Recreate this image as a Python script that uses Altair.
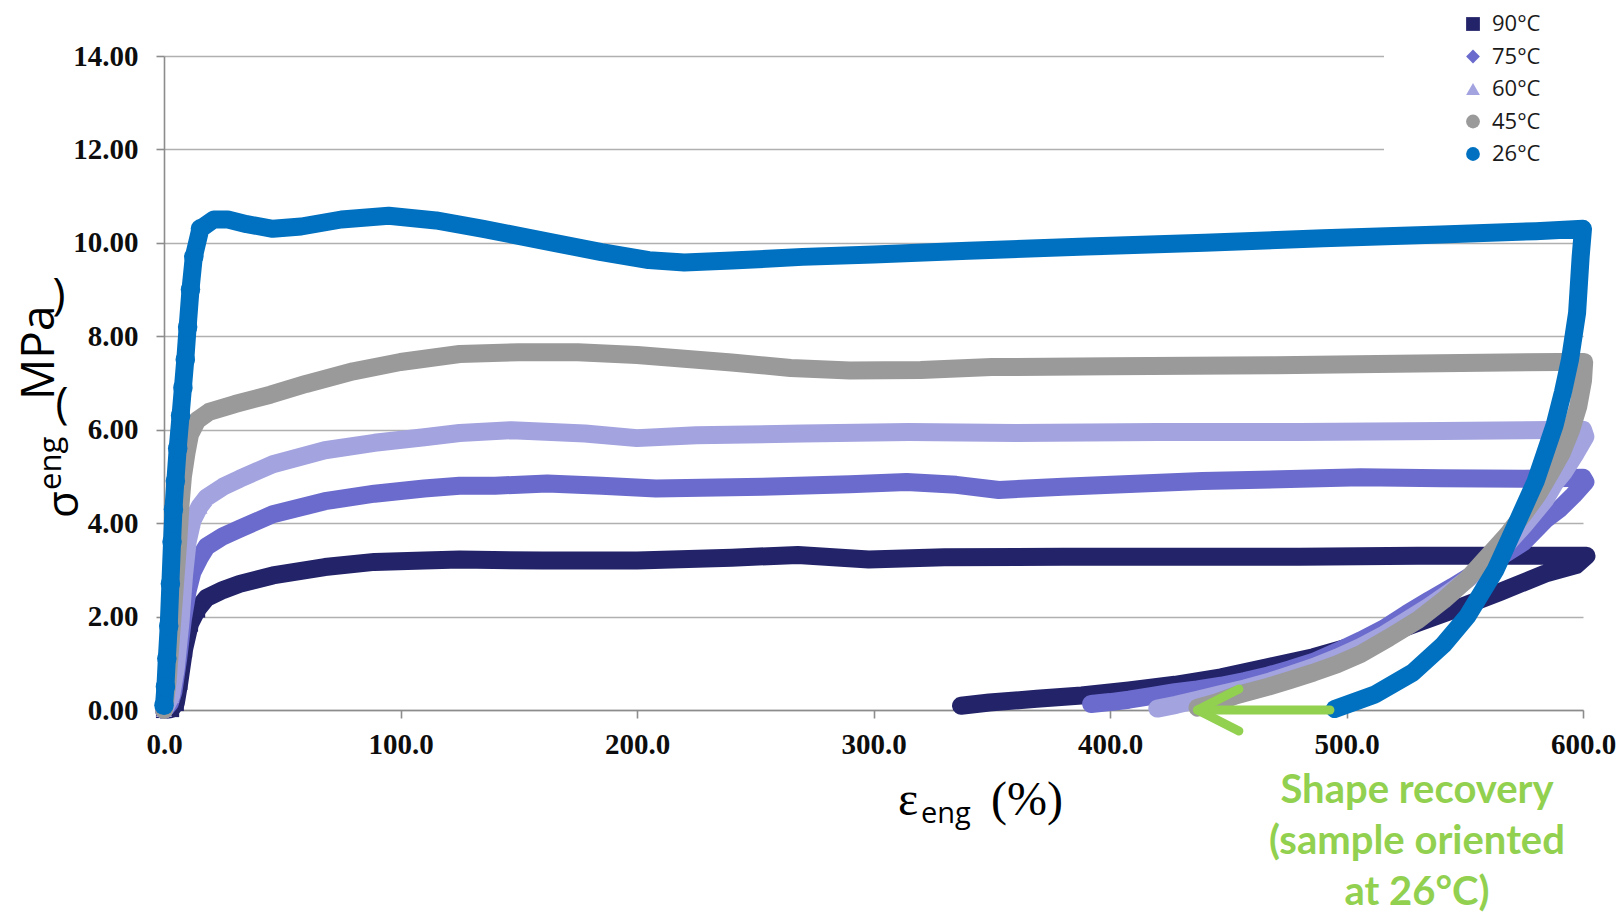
import altair as alt
import pandas as pd

series_names = ["90°C", "75°C", "60°C", "45°C", "26°C"]
series_colors = ["#23236A", "#6B6BCD", "#A3A3E0", "#9A9A9A", "#0070C0"]
series_shapes = ["square", "diamond", "triangle-up", "circle", "circle"]
marker_sizes = [260, 260, 260, 260, 380]

# 90 °C: loading then recovery
x90 = [0, 3, 5, 6.5, 8.5, 11, 14, 18, 25, 32, 46, 68, 89, 110, 125, 160, 200, 240, 268, 298, 330, 380, 430,
       480, 530, 570, 601.5,
       597, 584, 565, 545, 525.5, 506, 486, 467, 447, 427.5, 408, 388, 369, 349, 337]
y90 = [0, 0.02, 0.15, 0.6, 1.3, 1.85, 2.15, 2.4, 2.57, 2.7, 2.88, 3.06, 3.17, 3.2, 3.22, 3.2, 3.2, 3.26, 3.32,
       3.22, 3.27, 3.28, 3.28, 3.28, 3.3, 3.3, 3.3,
       3.1, 2.92, 2.53, 2.14, 1.78, 1.42, 1.13, 0.92, 0.7, 0.54, 0.42, 0.31, 0.24, 0.16, 0.09]

# 75 °C
x75 = [0, 2.5, 4, 6, 8, 10, 12, 15, 18, 25, 32, 46, 68, 89, 110, 125, 140, 162, 185, 208, 253, 290, 314, 335,
       353, 380, 439, 506, 540, 575, 600,
       601, 596, 590, 584, 575, 565, 555, 545, 535, 525.5, 516, 506, 496, 486, 476, 467, 457, 447, 437, 427.5,
       418, 408, 400, 392]
y75 = [0, 0.15, 0.4, 1.1, 1.95, 2.55, 2.95, 3.25, 3.5, 3.72, 3.88, 4.19, 4.47, 4.63, 4.74, 4.8, 4.8, 4.85, 4.8,
       4.74, 4.78, 4.83, 4.88, 4.82, 4.71, 4.78, 4.9, 4.98, 4.96, 4.95, 4.97,
       4.88, 4.6, 4.3, 4.07, 3.6, 3.28, 2.95, 2.64, 2.35, 2.06, 1.75, 1.49, 1.25, 1.03, 0.87, 0.74, 0.62, 0.52,
       0.44, 0.38, 0.3, 0.22, 0.17, 0.13]

# 60 °C
x60 = [0, 3, 5, 7, 8.5, 10, 12, 15, 18, 25, 32, 46, 68, 89, 110, 125, 147, 178, 200, 225, 270, 315, 360, 420,
       480, 540, 600,
       601, 597, 592, 588, 584, 575, 565, 555, 545, 535, 525.5, 516, 506, 496, 486, 476, 467, 457, 447, 437,
       428, 420]
y60 = [0, 0.3, 0.9, 1.9, 2.9, 3.6, 4.05, 4.35, 4.55, 4.78, 4.95, 5.26, 5.56, 5.72, 5.84, 5.93, 5.99, 5.92, 5.82,
       5.88, 5.92, 5.95, 5.93, 5.95, 5.95, 5.97, 6.0,
       5.85, 5.5, 5.1, 4.85, 4.5, 3.95, 3.39, 2.95, 2.57, 2.22, 1.92, 1.62, 1.35, 1.12, 0.92, 0.75, 0.6, 0.46,
       0.34, 0.22, 0.11, 0.03]

# 45 °C
x45 = [0, 1.5, 3, 4.5, 6, 7, 8, 9.5, 11, 14, 19, 30, 45, 60, 80, 100, 125, 150, 175, 200, 220, 240, 265, 290,
       320, 350, 400, 470, 530, 590, 600.5,
       600, 598, 595, 591, 586, 581, 575, 568, 560, 551, 541, 530, 518, 506, 496, 486, 476, 467, 453, 445, 437]
y45 = [0, 0.6, 1.6, 2.6, 3.6, 4.4, 5.0, 5.5, 5.9, 6.2, 6.38, 6.55, 6.75, 6.98, 7.25, 7.45, 7.62, 7.66, 7.66,
       7.6, 7.52, 7.44, 7.32, 7.27, 7.28, 7.34, 7.36, 7.38, 7.42, 7.45, 7.45,
       7.05, 6.5, 6.0, 5.5, 5.05, 4.62, 4.2, 3.75, 3.3, 2.8, 2.35, 1.92, 1.55, 1.2, 0.98, 0.8, 0.64, 0.5, 0.31,
       0.16, 0.05]

# 26 °C
x26 = [0, 0.6, 1.2, 2.0, 2.7, 3.4, 4.0, 4.8, 5.8, 7.0, 8.0, 9.0, 10.0, 11.2, 12.6, 15.4, 21, 27, 35, 46, 58,
       75, 95, 115, 135, 150, 165, 185, 205, 220, 240, 270, 300, 340, 390, 440, 490, 540, 580, 600,
       599, 597.5, 594.5, 591.5, 588, 584, 580, 572, 563, 551, 541, 528, 512, 495]
y26 = [0.1, 0.5, 1.1, 1.8, 2.7, 3.6, 4.3, 4.9, 5.6, 6.3, 6.9, 7.5, 8.2, 9.0, 9.7, 10.3, 10.5, 10.5, 10.4, 10.3,
       10.35, 10.5, 10.58, 10.48, 10.3, 10.15, 10.0, 9.8, 9.63, 9.58, 9.62, 9.7, 9.75, 9.83, 9.92, 10.0, 10.1,
       10.18, 10.25, 10.3,
       9.7, 8.5, 7.5, 6.8, 6.1, 5.5, 4.9, 4.0, 3.0, 2.0, 1.4, 0.8, 0.33, 0.02]

series_x = [x90, x75, x60, x45, x26]
series_y = [y90, y75, y60, y45, y26]

y_ticks = [0, 2, 4, 6, 8, 10, 12, 14]
x_ticks = [0, 100, 200, 300, 400, 500, 600]

# recovery arrow (data units)
arrow_x = [493, 437, 454.5, 437, 454.5]
arrow_y = [0, 0, 0.45, 0, -0.45]
arrow_part = ["shaft", "shaft", "head", "head", "head"]

annotation_text = "Shape recovery\n(sample oriented\nat 26°C)"

rows = []
for name, xs, ys in zip(series_names, series_x, series_y):
    for i, (xv, yv) in enumerate(zip(xs, ys)):
        rows.append({"series": name, "strain": xv, "stress": yv, "idx": i})
df = pd.DataFrame(rows)

arrow_df = pd.DataFrame({"strain": arrow_x, "stress": arrow_y, "part": arrow_part,
                         "idx": list(range(len(arrow_x)))})

color_scale = alt.Scale(domain=series_names, range=series_colors)
shape_scale = alt.Scale(domain=series_names, range=series_shapes)

# white legend box that masks the gridlines behind it (as in the original)
legend = alt.Legend(
    title=None, orient="none", legendX=1220, legendY=-89, fillColor="white", padding=46,
    symbolOffset=32, symbolSize=190, symbolStrokeWidth=0,
    labelFont="Open Sans", labelFontSize=22, labelColor="#1a1a1a", labelOffset=8, rowPadding=10.5,
)

x_enc = alt.X("strain:Q", scale=alt.Scale(domain=[0, 600], nice=False, zero=False),
              axis=alt.Axis(values=x_ticks, format=".1f", title=None, grid=False,
                            domainColor="#8C8C8C", domainWidth=1.6, tickColor="#8C8C8C",
                            tickWidth=1.6, tickSize=8, labelFont="Liberation Serif",
                            labelFontWeight="bold", labelFontSize=29, labelColor="#0d0d0d",
                            labelPadding=12, labelFlush=False, labelOverlap=False))
y_enc = alt.Y("stress:Q", scale=alt.Scale(domain=[0, 14], nice=False, zero=False),
              axis=alt.Axis(values=y_ticks, format=".2f", title=None, grid=True,
                            gridColor="#B0B0B0", gridWidth=1.6,
                            domainColor="#8C8C8C", domainWidth=1.6, tickColor="#8C8C8C",
                            tickWidth=1.6, tickSize=8, labelFont="Liberation Serif",
                            labelFontWeight="bold", labelFontSize=29, labelColor="#0d0d0d",
                            labelPadding=18, labelFlush=False, labelOverlap=False))

base = alt.Chart(df)
layers = []
for name, col, msize in zip(series_names, series_colors, marker_sizes):
    line = base.transform_filter(alt.datum.series == name).mark_line(
        strokeWidth=18, strokeCap="round", strokeJoin="round", color=col
    ).encode(x=x_enc, y=y_enc, order="idx:Q")
    pts = base.transform_filter((alt.datum.series == name) & (alt.datum.strain <= 16)).mark_point(
        filled=True, opacity=1, size=msize
    ).encode(x=x_enc, y=y_enc,
             color=alt.Color("series:N", scale=color_scale, legend=legend),
             shape=alt.Shape("series:N", scale=shape_scale, legend=legend))
    layers += [line, pts]

arrow = alt.Chart(arrow_df).mark_line(
    color="#92D050", strokeWidth=9, strokeCap="round", strokeJoin="round"
).encode(x=x_enc, y=y_enc, detail="part:N", order="idx:Q")
layers.append(arrow)


def label(text, x, y, size, font, angle=0, align="left", baseline="alphabetic", weight="normal",
          color="#000000", **kw):
    return alt.Chart(pd.DataFrame({"t": [text]})).mark_text(
        font=font, fontSize=size, angle=angle, align=align, baseline=baseline,
        fontWeight=weight, color=color, **kw
    ).encode(x=alt.value(x), y=alt.value(y), text="t:N")


# x-axis title: ε_eng (%)
layers.append(label("ε", 734, 759, 48, "Liberation Serif"))
layers.append(label("eng", 757, 767, 29, "Open Sans"))
layers.append(label("(%)", 827, 759, 48, "Liberation Serif"))

# y-axis title pieces: σ eng ( MPa )
layers.append(label("σ", -86, 462, 44, "Open Sans", angle=270))
layers.append(label("eng", -103, 434, 31, "Open Sans", angle=270))
layers.append(label("(", -102, 362, 44, "Open Sans", align="center"))
layers.append(label("MPa", -110, 344, 46, "Open Sans", angle=270))
layers.append(label(")", -105, 253, 44, "Open Sans", align="center"))

# annotation
layers.append(alt.Chart(pd.DataFrame({"t": [annotation_text]})).mark_text(
    font="Lato", fontSize=40, fontWeight="bold", color="#92D050", align="center",
    baseline="middle", lineBreak="\n", lineHeight=51
).encode(x=alt.value(1253), y=alt.value(735), text="t:N"))

chart = alt.layer(*layers).properties(
    width=1419, height=654, autosize="none",
    padding={"left": 164, "top": 56, "right": 39, "bottom": 204},
    background="white",
).configure_view(stroke=None)

chart.save("out.html", embed_options={"renderer": "svg", "actions": False})
